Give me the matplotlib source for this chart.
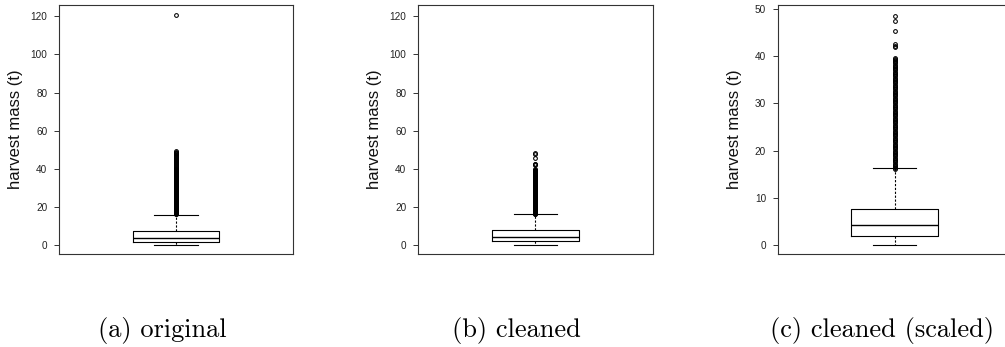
import matplotlib
matplotlib.use("Agg")
import matplotlib.pyplot as plt

# ---- data ----
panel_titles = ["(a) original", "(b) cleaned", "(c) cleaned (scaled)"]
ylabel_text = "harvest mass (t)"

# box statistics: whislo, q1, med, q3, whishi
stats_original = [0.0, 1.7, 3.8, 7.4, 15.8]
stats_cleaned = [0.0, 1.9, 4.1, 7.6, 16.3]

# outliers (dense column approximated by listed readings)
dense_column = [16.0, 16.25, 16.5, 16.75, 17.0, 17.25, 17.5, 17.75, 18.0, 18.25,
                18.5, 18.75, 19.0, 19.25, 19.5, 19.75, 20.0, 20.25, 20.5, 20.75,
                21.0, 21.25, 21.5, 21.75, 22.0, 22.25, 22.5, 22.75, 23.0, 23.25,
                23.5, 23.75, 24.0, 24.25, 24.5, 24.75, 25.0, 25.25, 25.5, 25.75,
                26.0, 26.25, 26.5, 26.75, 27.0, 27.25, 27.5, 27.75, 28.0, 28.25,
                28.5, 28.75, 29.0, 29.25, 29.5, 29.75, 30.0, 30.25, 30.5, 30.75,
                31.0, 31.25, 31.5, 31.75, 32.0, 32.25, 32.5, 32.75, 33.0, 33.25,
                33.5, 33.75, 34.0, 34.25, 34.5, 34.75, 35.0, 35.25, 35.5, 35.75,
                36.0, 36.25, 36.5, 36.75, 37.0, 37.25, 37.5, 37.75, 38.0, 38.25,
                38.5, 38.75, 39.0, 39.25, 39.5, 39.75]
fliers_original = dense_column + [40.0, 40.5, 41.0, 41.5, 42.0, 42.5, 43.0, 43.5,
                                  44.0, 44.5, 45.0, 45.5, 46.0, 46.5, 47.0,
                                  47.5, 48.0, 48.5, 49.0, 49.5, 121.0]
fliers_cleaned = dense_column + [42.0, 42.3, 42.6, 45.4, 47.6, 48.5]

yticks_wide = [0, 20, 40, 60, 80, 100, 120]
yticks_scaled = [0, 10, 20, 30, 40, 50]
ylim_wide = (-4.8, 126.0)
ylim_scaled = (-1.95, 50.9)

# ---- figure ----
W, H = 1005, 347
fig = plt.figure(figsize=(W / 100, H / 100), dpi=100)

ax_specs = [  # left px, right px
    (59, 293),
    (418, 652.5),
    (777.7, 1011.7),
]
top_px, bot_px = 5, 254

panels = [
    (stats_original, fliers_original, yticks_wide, ylim_wide),
    (stats_cleaned, fliers_cleaned, yticks_wide, ylim_wide),
    (stats_cleaned, fliers_cleaned, yticks_scaled, ylim_scaled),
]
caption_x = [162, 516, 882]
caption_y = 330

frame_col = "#333333"
for (lpx, rpx), (st, fl, yt, yl), cx, title in zip(ax_specs, panels, caption_x, panel_titles):
    ax = fig.add_axes([lpx / W, 1 - bot_px / H, (rpx - lpx) / W, (bot_px - top_px) / H])
    box = dict(whislo=st[0], q1=st[1], med=st[2], q3=st[3], whishi=st[4], fliers=fl)
    ax.bxp([box], positions=[1], widths=0.4, capwidths=0.2, showfliers=True,
           boxprops=dict(color="black", linewidth=0.8),
           medianprops=dict(color="black", linewidth=1.0),
           whiskerprops=dict(color="black", linewidth=0.8, linestyle=(0, (2, 1.5))),
           capprops=dict(color="black", linewidth=0.8),
           flierprops=dict(marker="o", markersize=2.7, markerfacecolor="none",
                           markeredgecolor="black", markeredgewidth=0.75, linestyle="none"))
    ax.set_xlim(0.46, 1.54)
    ax.set_ylim(*yl)
    ax.set_yticks(yt)
    ax.set_yticklabels([str(v) for v in yt], fontsize=7.2, family="Liberation Sans", color="#222222")
    ax.set_xticks([])
    ax.tick_params(axis="y", direction="out", length=3.3, width=0.7, pad=5.0, color=frame_col)
    for sp in ax.spines.values():
        sp.set_linewidth(0.8)
        sp.set_color(frame_col)
    ax.set_ylabel(ylabel_text, fontsize=12, family="Liberation Sans", color="#111111")
    ax.yaxis.set_label_coords(-36 / (rpx - lpx), 0.5)
    fig.text(cx / W, 1 - caption_y / H, title, family="cmr10", fontsize=19,
             ha="center", va="center", color="black")

fig.savefig("out.png", dpi=100)
